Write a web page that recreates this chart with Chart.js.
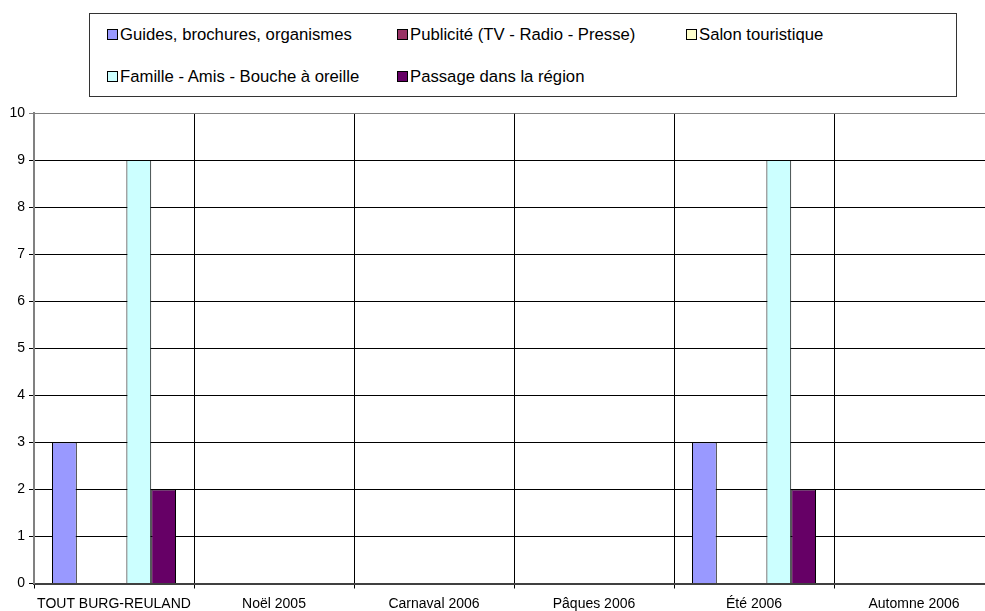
<!DOCTYPE html>
<html>
<head>
<meta charset="utf-8">
<script src="https://cdn.jsdelivr.net/npm/chart.js@4/dist/chart.umd.min.js"></script>
<style>
  html, body { margin: 0; padding: 0; background: #fff; overflow: hidden; }
  #wrap { position: relative; width: 985px; height: 611px; overflow: hidden; }
  #chart { position: absolute; left: 0; top: 0; }
  #legend {
    position: absolute; left: 89px; top: 13px; width: 866px; height: 82px;
    border: 1px solid #333; background: #fff;
    font-family: "Liberation Sans", Arial, sans-serif; font-size: 16.7px; color: #000;
  }
  .item { position: absolute; white-space: nowrap; line-height: 20px; height: 20px; }
  .swatch {
    display: inline-block; width: 9px; height: 9px; border: 1px solid #000;
    margin-right: 2px; vertical-align: 0px;
  }
</style>
</head>
<body>
<div id="wrap">
  <canvas id="chart" width="1000" height="611"></canvas>
  <div id="legend"></div>
</div>
<script>
/* global Chart */

// Data
var categories = ["TOUT BURG-REULAND", "Noël 2005", "Carnaval 2006", "Pâques 2006", "Été 2006", "Automne 2006"];
var seriesNames = [
  "Guides, brochures, organismes",
  "Publicité (TV - Radio - Presse)",
  "Salon touristique",
  "Famille - Amis - Bouche à oreille",
  "Passage dans la région"
];
var guides = [3, 0, 0, 0, 3, 0];
var publicite = [0, 0, 0, 0, 0, 0];
var salon = [0, 0, 0, 0, 0, 0];
var famille = [9, 0, 0, 0, 9, 0];
var passage = [2, 0, 0, 0, 2, 0];
var yTicks = [0, 1, 2, 3, 4, 5, 6, 7, 8, 9, 10];

// Styles
var colors = ["#9999FF", "#993366", "#FFFFCC", "#CCFFFF", "#660066"];
var legendCols = [17, 307, 596];
var legendRows = [11, 53];

var seriesValues = [guides, publicite, salon, famille, passage];
var FONT = "'Liberation Sans', Arial, sans-serif";

// HTML legend laid out in columns like the original
var legendEl = document.getElementById("legend");
seriesNames.forEach(function (name, i) {
  var item = document.createElement("div");
  item.className = "item";
  item.style.left = legendCols[i % 3] + "px";
  item.style.top = legendRows[Math.floor(i / 3)] + "px";
  var sw = document.createElement("span");
  sw.className = "swatch";
  sw.style.background = colors[i];
  item.appendChild(sw);
  item.appendChild(document.createTextNode(name));
  legendEl.appendChild(item);
});

var datasets = seriesNames.map(function (name, i) {
  return {
    label: name,
    data: seriesValues[i],
    backgroundColor: colors[i],
    borderColor: "#000",
    borderWidth: 1,
    borderSkipped: "start",
    inflateAmount: 0,
    categoryPercentage: 0.775,
    barPercentage: 1.0
  };
});

new Chart(document.getElementById("chart").getContext("2d"), {
  type: "bar",
  data: { labels: categories, datasets: datasets },
  options: {
    responsive: false,
    animation: false,
    devicePixelRatio: 1,
    layout: { padding: { top: 113, right: 6, left: 0, bottom: 0 } },
    plugins: {
      legend: { display: false },
      tooltip: { enabled: false }
    },
    scales: {
      x: {
        grid: {
          offset: true,
          color: "#000",
          lineWidth: 1,
          tickLength: 5
        },
        border: { color: "#404040", width: 2 },
        ticks: {
          color: "#000",
          padding: 7,
          maxRotation: 0,
          autoSkip: false,
          font: { family: FONT, size: 14 }
        },
        afterFit: function (scale) { scale.height = 27.5; }
      },
      y: {
        min: 0,
        max: 10,
        afterBuildTicks: function (scale) {
          scale.ticks = yTicks.map(function (v) { return { value: v }; });
        },
        grid: {
          color: function (ctx) { return ctx.tick && ctx.tick.value === 10 ? "#808080" : "#000"; },
          lineWidth: 1,
          tickLength: 5
        },
        border: { color: "#808080", width: 2 },
        ticks: {
          color: "#000",
          padding: 4,
          font: { family: FONT, size: 14 }
        },
        afterFit: function (scale) { scale.width = 34; }
      }
    }
  }
});
</script>
</body>
</html>
